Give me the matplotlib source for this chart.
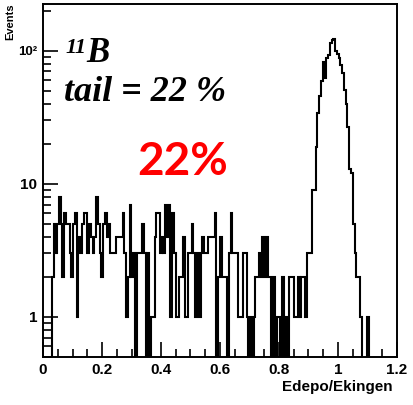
import numpy as np
import matplotlib
matplotlib.use("Agg")
import matplotlib.pyplot as plt
from matplotlib.ticker import FixedLocator, MultipleLocator, NullFormatter

OUTPUT_FILE = "out.png"

# 200 bins of Edepo/Ekingen between 0 and 1.2
X_MIN = 0.0
X_MAX = 1.2
N_BINS = 200

# bins 0..148: low-energy tail
TAIL_COUNTS = [
    0, 0, 0, 0, 0, 2, 5, 3, 5, 8,
    5, 2, 6, 5, 5, 3, 2, 5, 6, 1,
    4, 3, 5, 6, 6, 3, 5, 4, 3, 4,
    8, 5, 3, 2, 5, 6, 4, 5, 3, 3,
    3, 4, 4, 4, 4, 6, 3, 1, 2, 7,
    2, 3, 0, 3, 3, 3, 5, 3, 0, 3,
    0, 1, 1, 4, 6, 6, 3, 4, 3, 7,
    4, 7, 1, 6, 3, 1, 1, 2, 2, 4,
    1, 1, 3, 3, 5, 3, 1, 3, 1, 3,
    4, 3, 3, 4, 4, 4, 4, 6, 0, 2,
    4, 2, 2, 2, 0, 3, 6, 3, 3, 3,
    1, 1, 1, 3, 3, 1, 0, 1, 0, 1,
    2, 2, 3, 2, 4, 2, 4, 2, 2, 0,
    2, 0, 1, 1, 0, 2, 0, 1, 0, 2,
    2, 2, 1, 1, 2, 1, 2, 2, 1,
]

# bins 149..199: full-energy peak
PEAK_COUNTS = [
    3, 3, 3, 9, 9, 19, 34, 46, 59, 82,
    62, 88, 93, 114, 120, 122, 99, 95, 88, 78,
    68, 51, 40, 27, 13, 12, 5, 3, 2, 2,
    1, 0, 0, 0, 1, 0, 0, 0, 0, 0,
    0, 0, 0, 0, 0, 0, 0, 0, 0, 0,
    0,
]

X_TICKS = [0, 0.2, 0.4, 0.6, 0.8, 1, 1.2]
X_TICK_LABELS = ["0", "0.2", "0.4", "0.6", "0.8", "1", "1.2"]
Y_TICKS = [1, 10, 100]
Y_TICK_LABELS = ["1", "10", "10²"]

W, H = 414, 405


def px(x, y):
    """Pixel position (from top-left) -> figure fraction."""
    return x / W, 1 - y / H


def plot_histogram(counts):
    fig = plt.figure(figsize=(W / 100, H / 100), dpi=100)
    ax = fig.add_axes([43 / W, 1 - 357 / H, (397 - 43) / W, (357 - 4) / H])

    edges = np.linspace(X_MIN, X_MAX, N_BINS + 1)
    ax.set_yscale("log", nonpositive="clip")
    ax.stairs(counts, edges, color="black", linewidth=1.5)

    ax.set_xlim(X_MIN, X_MAX)
    ax.set_ylim(0.5, 225)

    for side in ax.spines.values():
        side.set_linewidth(1.4)

    ax.xaxis.set_major_locator(FixedLocator(X_TICKS))
    ax.xaxis.set_minor_locator(MultipleLocator(0.05))
    ax.set_xticklabels(X_TICK_LABELS)
    ax.yaxis.set_major_locator(FixedLocator(Y_TICKS))
    ax.set_yticklabels(Y_TICK_LABELS)
    ax.yaxis.set_minor_locator(FixedLocator(
        [v * d for d in (0.1, 1, 10, 100) for v in range(2, 10)]))
    ax.yaxis.set_minor_formatter(NullFormatter())

    ax.tick_params(which="both", direction="in", top=False, right=False,
                   width=1.2, labelsize=11)
    ax.tick_params(which="major", length=11, pad=4)
    ax.tick_params(which="minor", length=6)
    for lab in ax.get_xticklabels() + ax.get_yticklabels():
        lab.set_fontfamily("Liberation Sans")
        lab.set_fontweight("bold")
    ax.get_yticklabels()[2].set_fontsize(9.5)

    fig.text(*px(10, 3), "Events", rotation=90, ha="center", va="top",
             fontsize=8, fontweight="bold", family="Liberation Sans")
    fig.text(*px(393, 387), "Edepo/Ekingen", ha="right", va="center",
             fontsize=11, fontweight="bold", family="Liberation Sans")

    serif = dict(family="Liberation Serif", style="italic", fontweight="bold")
    fig.text(*px(65, 53), "11", ha="left", va="baseline", fontsize=16, **serif)
    fig.text(*px(86, 62), "B", ha="left", va="baseline", fontsize=25, **serif)
    fig.text(*px(64, 101), "tail = 22 %", ha="left", va="baseline",
             fontsize=26, **serif)

    fig.text(*px(137, 175), "22%", ha="left", va="baseline", color="red",
             fontsize=33, fontweight="bold", family="Lato")

    fig.savefig(OUTPUT_FILE, dpi=100)


def main():
    counts = np.array(TAIL_COUNTS + PEAK_COUNTS, dtype=float)
    plot_histogram(counts)


if __name__ == "__main__":
    main()
